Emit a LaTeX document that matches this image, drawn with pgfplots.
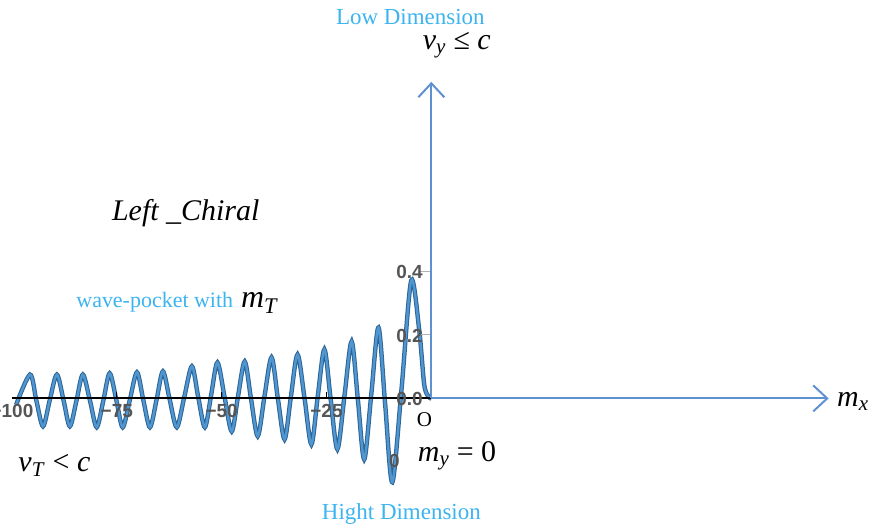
\documentclass[border=0pt]{standalone}
\usepackage{fontspec}
\setmainfont{Liberation Serif}
\setsansfont{Liberation Sans}
\usepackage{pgfplots}
\usepackage{pgfplotstable}
\pgfplotsset{compat=1.18}
\usetikzlibrary{arrows.meta}

\definecolor{lblue}{RGB}{60,180,240}
\definecolor{axblue}{RGB}{95,145,210}
\definecolor{wavedark}{RGB}{45,100,150}
\definecolor{wavelight}{RGB}{80,150,208}
\definecolor{tickgray}{RGB}{85,85,85}

\newcommand{\fs}[1]{\fontsize{#1}{#1}\selectfont}

% wave packet (extrema and crossings)
\pgfplotstableread{
x y
-99.0 -0.020
-95.7 0.075
-94.2 -0.006
-92.6 -0.088
-91.0 -0.006
-89.3 0.075
-87.7 -0.006
-86.2 -0.088
-84.6 -0.006
-83.1 0.075
-81.4 -0.007
-79.8 -0.091
-78.2 -0.006
-76.7 0.079
-75.1 -0.006
-73.6 -0.091
-71.9 -0.005
-70.2 0.082
-68.7 -0.004
-67.1 -0.091
-65.5 -0.003
-64.0 0.085
-62.4 -0.003
-60.7 -0.091
-58.9 0.005
-57.1 0.101
-55.6 0.005
-54.0 -0.091
-52.5 0.011
-51.0 0.113
-49.3 0.004
-47.6 -0.104
-46.1 0.006
-44.5 0.116
-43.0 -0.001
-41.4 -0.119
-39.8 0.005
-38.1 0.129
-36.6 0.000
-35.0 -0.129
-33.5 0.004
-31.9 0.138
-30.2 -0.003
-28.6 -0.145
-27.1 0.004
-25.5 0.154
-24.0 -0.003
-22.4 -0.160
-20.7 0.009
-19.0 0.179
-17.5 -0.006
-16.0 -0.192
-14.3 0.015
-12.6 0.223
-11.0 -0.020
-9.3 -0.264
-7.1 0.030
-4.8 0.371
-2.9 0.217
-1.7 0.044
-0.7 0.006
0.0 0.000
}\wave

\begin{document}
\begin{tikzpicture}
\begin{axis}[
  width=872pt, height=530pt, scale only axis,
  xmin=-102.857, xmax=104.762, ymin=-0.4119, ymax=1.2547,
  axis lines=none, clip=false,
]
\path (rel axis cs:0,0) rectangle (rel axis cs:1,1);

% curve
\addplot[wavedark, line width=4.4pt, smooth, no marks] table {\wave};
\addplot[wavelight, line width=2.4pt, smooth, no marks] table {\wave};

% inner plot axis and ticks
\draw[black, line width=2pt] (axis cs:-100,0) -- (axis cs:0,0);
\draw[black, line width=1pt] (axis cs:-75,0) -- (axis cs:-75,0.02);
\draw[black, line width=1pt] (axis cs:-50,0) -- (axis cs:-50,0.02);
\draw[black, line width=1pt] (axis cs:-25,0) -- (axis cs:-25,0.02);
\draw[gray!60, line width=1pt] (axis cs:-3,0.2) -- (axis cs:0,0.2);
\draw[gray!60, line width=1pt] (axis cs:-3,0.4) -- (axis cs:0,0.4);
\begin{scope}[every node/.style={tickgray, font=\sffamily\bfseries\fs{19}}]
\node[overlay] at (axis cs:-100,-0.041) {−100};
\node at (axis cs:-75,-0.041) {−75};
\node at (axis cs:-50,-0.041) {−50};
\node at (axis cs:-25,-0.041) {−25};
\node at (axis cs:-5.2,-0.003) {0.0};
\node at (axis cs:-5.2,0.198) {0.2};
\node at (axis cs:-5.2,0.399) {0.4};
\node at (axis cs:-8.8,-0.198) {0};
\end{scope}

% coordinate arrows
\draw[axblue, line width=2pt, -{Straight Barb[length=14pt,width=26pt]}]
  (axis cs:0,0) -- (axis cs:94.76,0);
\draw[axblue, line width=2pt, -{Straight Barb[length=14pt,width=26pt]}]
  (axis cs:0,0) -- (axis cs:0,0.997);

% annotations
\node[lblue, font=\fs{23}] at (rel axis cs:0.4713,0.968) {Low Dimension};
\node[lblue, font=\fs{23}] at (rel axis cs:0.461,0.0283) {Hight Dimension};
\node[font=\fs{30}, anchor=base west] at (rel axis cs:0.4817,0.9057)
  {\textit{v}\textsubscript{\textit{y}} ≤ \textit{c}};
\node[font=\fs{30}\itshape] at (rel axis cs:0.2133,0.598) {Left \_Chiral};
\node[anchor=base west] at (rel axis cs:0.0837,0.4189)
  {\textcolor{lblue}{\fs{22}wave-pocket with}\hspace{8pt}{\fs{32}\textit{m}\textsubscript{\textit{T}}}};
\node[font=\fs{30}, anchor=base west] at (rel axis cs:0.9576,0.2321)
  {\textit{m}\textsubscript{\textit{x}}};
\node[font=\fs{21}] at (rel axis cs:0.4874,0.2075) {O};
\node[font=\fs{30}, anchor=base west] at (rel axis cs:0.4759,0.1283)
  {\textit{m}\textsubscript{\textit{y}} = 0};
\node[font=\fs{30}, anchor=base west] at (rel axis cs:0.0172,0.1094)
  {\textit{v}\textsubscript{\textit{T}} < \textit{c}};
\end{axis}
\end{tikzpicture}
\end{document}
